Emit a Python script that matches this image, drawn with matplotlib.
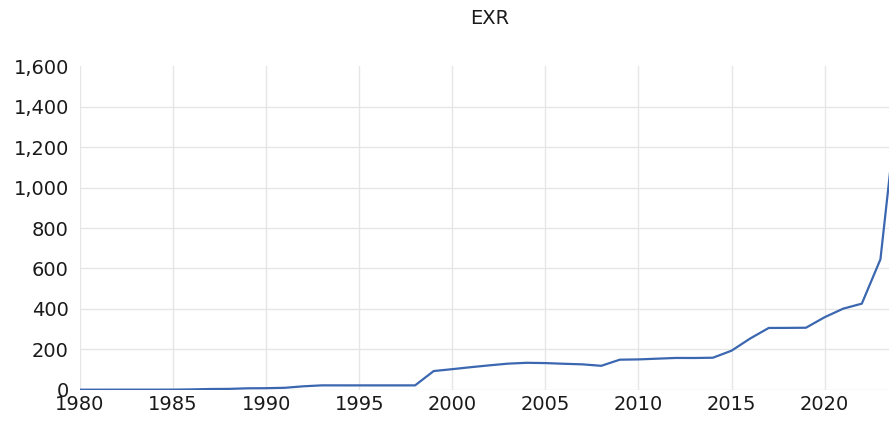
import numpy as np
import matplotlib.pyplot as plt

# exchange rate series
years = np.arange(1980, 2025)
exr = [0.55, 0.61, 0.67, 0.72, 0.77, 0.89, 2.0, 4.0, 4.5, 7.4,
       8.0, 9.9, 17.3, 22.0, 21.9, 21.9, 21.9, 21.9, 21.9, 92.7,
       102.1, 111.9, 121.0, 129.4, 133.5, 132.1, 128.7, 125.8, 118.6, 148.9,
       150.3, 153.9, 157.5, 157.3, 158.6, 193.3, 253.5, 305.8, 306.1, 306.9,
       358.8, 401.2, 426.0, 645.2, 1479.0]
yticks = [0, 200, 400, 600, 800, 1000, 1200, 1400, 1600]
xticks = [1980, 1985, 1990, 1995, 2000, 2005, 2010, 2015, 2020]

fig = plt.figure(figsize=(8.89, 4.22), dpi=100)
ax = fig.add_axes([0.09, 0.0763, 0.9213, 0.7668])

ax.plot(years, exr, color='#3b67b0', lw=1.6, clip_on=True)

ax.set_xlim(1980, 2024)
ax.set_ylim(0, 1600)
ax.set_xticks(xticks)
ax.set_yticks(yticks)
ax.set_yticklabels([f'{v:,}' for v in yticks])
ax.tick_params(axis='both', length=0, labelsize=14, colors='#1a1a1a')
ax.tick_params(axis='y', pad=8)
ax.tick_params(axis='x', pad=4)

ax.grid(True, color='#e6e6e6', lw=1)
ax.set_axisbelow(True)
ax.get_ygridlines()[-1].set_visible(False)
for s in ax.spines.values():
    s.set_visible(False)

fig.text(0.551, 1 - 18 / 422, 'EXR', ha='center', va='center', fontsize=14, color='#1a1a1a')

fig.savefig('out.png', dpi=100)
